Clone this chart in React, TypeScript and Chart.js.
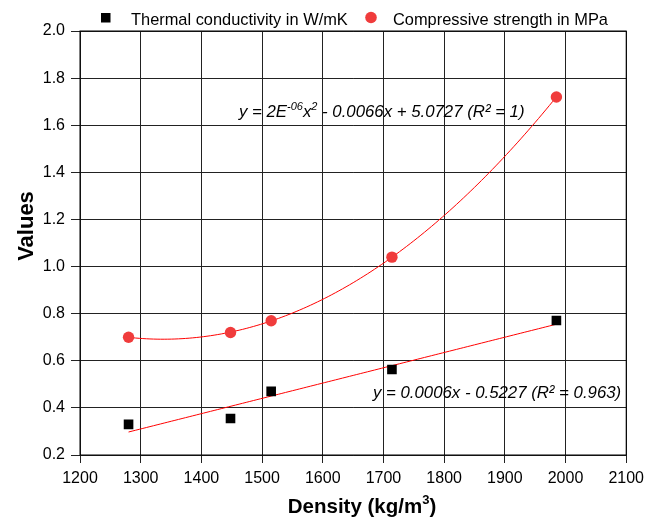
import React, { useEffect, useRef } from "react";
import { Chart, registerables } from "chart.js";

Chart.register(...registerables);

// ---- data ----
const density: number[] = [1280, 1448, 1515, 1714, 1985];
const thermalConductivity: number[] = [0.33, 0.355, 0.47, 0.563, 0.771];
const compressiveStrength: number[] = [0.70, 0.72, 0.77, 1.04, 1.72];

const xTicks: number[] = [1200, 1300, 1400, 1500, 1600, 1700, 1800, 1900, 2000, 2100];
const yTicks: number[] = [0.2, 0.4, 0.6, 0.8, 1.0, 1.2, 1.4, 1.6, 1.8, 2.0];

const legendLabels: string[] = ["Thermal conductivity in W/mK", "Compressive strength in MPa"];
const xTitle = "Density (kg/m";
const xTitleSup = "3";
const yTitle = "Values";

const FONT = "'Liberation Sans', Arial, Helvetica, sans-serif";

// least squares polynomial fit (trendline) derived from the data arrays
function polyfit(xs: number[], ys: number[], deg: number): number[] {
  const n = deg + 1;
  const A: number[][] = [];
  for (let i = 0; i < n; i++) {
    A.push(new Array(n + 1).fill(0));
  }
  const sx = 1000;
  for (let k = 0; k < xs.length; k++) {
    const x = xs[k] / sx;
    for (let i = 0; i < n; i++) {
      for (let j = 0; j < n; j++) A[i][j] += Math.pow(x, i + j);
      A[i][n] += ys[k] * Math.pow(x, i);
    }
  }
  for (let c = 0; c < n; c++) {
    let p = c;
    for (let r = c + 1; r < n; r++) if (Math.abs(A[r][c]) > Math.abs(A[p][c])) p = r;
    [A[c], A[p]] = [A[p], A[c]];
    for (let r = 0; r < n; r++) {
      if (r === c) continue;
      const f = A[r][c] / A[c][c];
      for (let j = c; j <= n; j++) A[r][j] -= f * A[c][j];
    }
  }
  const coef = A.map((row, i) => row[n] / row[i]);
  return coef.map((c, i) => c / Math.pow(sx, i));
}

function fitLine(xs: number[], ys: number[], deg: number) {
  const coef = polyfit(xs, ys, deg);
  const lo = Math.min(...xs);
  const hi = Math.max(...xs);
  const pts: { x: number; y: number }[] = [];
  const steps = 120;
  for (let i = 0; i <= steps; i++) {
    const x = lo + ((hi - lo) * i) / steps;
    let y = 0;
    for (let d = 0; d < coef.length; d++) y += coef[d] * Math.pow(x, d);
    pts.push({ x, y });
  }
  return pts;
}

const overlayPlugin = {
  id: "overlay",
  afterDraw(chart: any) {
    const ctx: CanvasRenderingContext2D = chart.ctx;
    const area = chart.chartArea;
    ctx.save();
    ctx.fillStyle = "#000";
    ctx.textBaseline = "alphabetic";

    // legend
    ctx.fillStyle = "#000";
    ctx.fillRect(101, 13, 9.5, 9.5);
    ctx.font = `16.4px ${FONT}`;
    ctx.textAlign = "left";
    ctx.fillText(legendLabels[0], 131, 24.5);
    ctx.beginPath();
    ctx.arc(371, 17.5, 5.8, 0, Math.PI * 2);
    ctx.fillStyle = "#f03c3c";
    ctx.fill();
    ctx.fillStyle = "#000";
    ctx.fillText(legendLabels[1], 393, 24.5);

    // x title
    ctx.font = `bold 20.5px ${FONT}`;
    const w1 = ctx.measureText(xTitle).width;
    ctx.font = `bold 13px ${FONT}`;
    const w2 = ctx.measureText(xTitleSup).width;
    ctx.font = `bold 20.5px ${FONT}`;
    const w3 = ctx.measureText(")").width;
    const total = w1 + w2 + w3;
    let xs = 362 - total / 2;
    ctx.fillText(xTitle, xs, 513);
    xs += w1;
    ctx.font = `bold 13px ${FONT}`;
    ctx.fillText(xTitleSup, xs, 504);
    xs += w2;
    ctx.font = `bold 20.5px ${FONT}`;
    ctx.fillText(")", xs, 513);

    // y title
    ctx.save();
    ctx.translate(33, 226);
    ctx.rotate(-Math.PI / 2);
    ctx.textAlign = "center";
    ctx.font = `bold 22px ${FONT}`;
    ctx.fillText(yTitle, 0, 0);
    ctx.restore();

    // equations (rich text)
    const drawRich = (parts: [string, boolean][], x: number, y: number) => {
      let cx = x;
      for (const [t, sup] of parts) {
        ctx.font = sup ? `italic 11px ${FONT}` : `italic 16.8px ${FONT}`;
        ctx.fillText(t, cx, sup ? y - 7.5 : y);
        cx += ctx.measureText(t).width;
      }
    };
    ctx.textAlign = "left";
    ctx.fillStyle = "#000";
    drawRich(
      [
        ["y = 2E", false],
        ["-06", true],
        ["x", false],
        ["2", true],
        [" - 0.0066x + 5.0727 (R\u00B2 = 1)", false],
      ],
      239,
      117
    );
    drawRich([["y = 0.0006x - 0.5227 (R\u00B2 = 0.963)", false]], 373, 398);

    // plot border
    ctx.strokeStyle = "#000";
    ctx.lineWidth = 1;
    ctx.strokeRect(area.left, area.top, area.right - area.left, area.bottom - area.top);
    ctx.restore();
  },
};

export default function App() {
  const ref = useRef<HTMLCanvasElement | null>(null);
  useEffect(() => {
    if (!ref.current) return;
    const thermal = density.map((x, i) => ({ x, y: thermalConductivity[i] }));
    const strength = density.map((x, i) => ({ x, y: compressiveStrength[i] }));
    const chart = new Chart(ref.current, {
      type: "scatter",
      data: {
        datasets: [
          {
            label: legendLabels[0],
            data: thermal,
            pointStyle: "rect",
            pointRadius: 6.8,
            backgroundColor: "#000",
            borderColor: "#000",
            borderWidth: 0,
            order: 1,
          },
          {
            label: legendLabels[1],
            data: strength,
            pointStyle: "circle",
            pointRadius: 5.7,
            backgroundColor: "#f03c3c",
            borderColor: "#f03c3c",
            borderWidth: 0,
            order: 1,
          },
          {
            label: "linear fit",
            data: fitLine(density, thermalConductivity, 1),
            showLine: true,
            pointRadius: 0,
            borderColor: "#ff0000",
            borderWidth: 1,
            tension: 0,
            order: 2,
          },
          {
            label: "poly fit",
            data: fitLine(density, compressiveStrength, 2),
            showLine: true,
            pointRadius: 0,
            borderColor: "#ff0000",
            borderWidth: 1,
            tension: 0,
            order: 2,
          },
        ],
      },
      options: {
        animation: false,
        responsive: true,
        maintainAspectRatio: false,
        layout: { padding: { top: 31, right: 22, bottom: 0, left: 0 } },
        plugins: { legend: { display: false }, tooltip: { enabled: false } },
        scales: {
          x: {
            type: "linear",
            min: xTicks[0],
            max: xTicks[xTicks.length - 1],
            afterBuildTicks: (s: any) => {
              s.ticks = xTicks.map((v) => ({ value: v }));
            },
            afterFit: (s: any) => {
              s.height = 65;
            },
            grid: { color: "#222", lineWidth: 1, tickLength: 8, drawTicks: true },
            border: { display: false },
            ticks: {
              color: "#000",
              font: { size: 16, family: FONT },
              padding: 6,
              maxRotation: 0,
              callback: (v: any) => String(v),
            },
          },
          y: {
            type: "linear",
            min: yTicks[0],
            max: yTicks[yTicks.length - 1],
            afterBuildTicks: (s: any) => {
              s.ticks = yTicks.map((v) => ({ value: v }));
            },
            afterFit: (s: any) => {
              s.width = 80;
            },
            grid: { color: "#222", lineWidth: 1, tickLength: 9, drawTicks: true },
            border: { display: false },
            ticks: {
              color: "#000",
              font: { size: 16, family: FONT },
              padding: 6,
              callback: (v: any) => Number(v).toFixed(1),
            },
          },
        },
      },
      plugins: [overlayPlugin],
    });
    return () => chart.destroy();
  }, []);
  return (
    <div style={{ position: "absolute", left: 0, top: 0, width: 650, height: 520 }}>
      <canvas ref={ref} />
    </div>
  );
}
